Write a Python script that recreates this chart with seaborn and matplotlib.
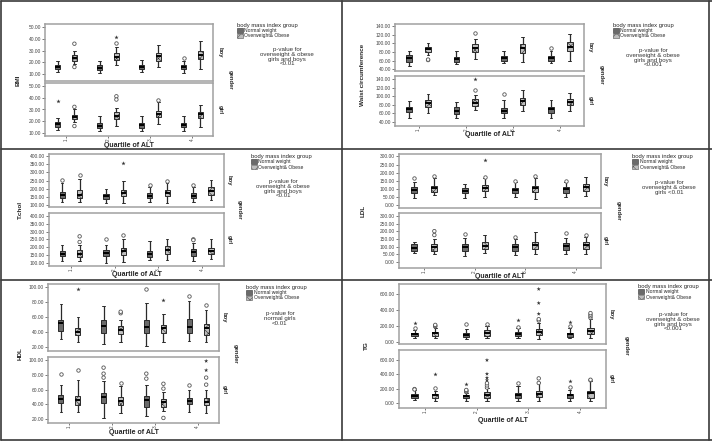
import matplotlib
matplotlib.use('Agg')
import matplotlib.pyplot as plt
import seaborn as sns
import pandas as pd
from matplotlib.lines import Line2D
from matplotlib.patches import Patch

quartiles = ['1', '2', '3', '4']
groups = ['Normal weight', 'Overweight& Obese']

# five-number summaries [low, q1, median, q3, high]
# rows: Q1 normal, Q1 obese, Q2 normal, Q2 obese, Q3 normal, Q3 obese, Q4 normal, Q4 obese
bmi_boy = [[12, 14, 16, 18, 21], [19, 21, 23.5, 26, 30],
           [11, 13.4, 15.4, 17.4, 21], [17.7, 22, 25, 27.7, 33.4],
           [12, 14, 16.3, 17.7, 22], [16.3, 21.4, 25.4, 28.3, 34.9],
           [11.1, 14.3, 16.3, 17.7, 21.4], [14, 22.6, 26.3, 29.7, 38]]
bmi_girl = [[12.3, 14.6, 17.1, 18.9, 22.3], [19.4, 21.7, 23.7, 25.1, 30],
            [11.7, 14, 16, 18.6, 24.3], [15.7, 21.4, 24.6, 28, 31.7],
            [11.7, 14.3, 16.3, 18.6, 24.6], [17.4, 23.1, 25.7, 28.6, 36.6],
            [11.7, 14.6, 16.9, 18.6, 24.6], [15.1, 22.9, 25.7, 28, 34.3]]
# outliers (quartile, group index, value)
bmi_boy_out = [(1, 1, 36), (1, 1, 16), (2, 1, 36.3), (4, 0, 24)]
bmi_boy_ext = [(2, 1, 42)]
bmi_girl_out = [(1, 1, 32.3), (1, 1, 15.7), (2, 1, 41.4), (2, 1, 38.6), (3, 1, 38.6)]
bmi_girl_ext = [(1, 0, 37)]

waist_boy = [[47.7, 57.7, 65.4, 73, 83], [73, 80.8, 86, 92.3, 100],
             [52, 57.7, 63.8, 69, 82], [63, 80.8, 88.5, 97.7, 109],
             [53.8, 59, 65.4, 71.5, 83], [57.7, 78.5, 88.5, 97.7, 115],
             [53.8, 60, 65.4, 70.8, 82], [60, 83, 92.3, 102, 121.5]]
waist_girl = [[48.6, 64, 70.5, 76, 89], [62, 76, 83.8, 91.5, 105],
              [50, 58, 65.8, 74.4, 87.7], [68, 77.5, 85.3, 93, 103],
              [48.6, 60, 66.6, 73.6, 91.5], [65.8, 80, 90, 97, 115],
              [48.6, 62, 69.7, 76, 91.5], [65.8, 80, 87.7, 94.7, 108.8]]
waist_boy_out = [(1, 1, 61.5), (1, 1, 62.5), (2, 1, 123), (4, 0, 90)]
waist_boy_ext = []
waist_girl_out = [(2, 1, 115), (3, 0, 105)]
waist_girl_ext = [(2, 1, 140)]

tchol_boy = [[114.5, 141.4, 162, 178.7, 234.6], [114.5, 141.4, 162, 189, 259],
             [110, 137, 156, 168, 197], [110, 152, 172.5, 193, 249],
             [114.5, 141, 156, 170, 207], [110, 152, 172.5, 191, 235],
             [116.5, 141, 156, 172, 208], [131, 162, 183, 207.7, 255]]
tchol_girl = [[110.6, 142.5, 159.6, 176.6, 217], [110.6, 138, 159.6, 181, 217],
              [102, 144.7, 166, 185, 217], [106, 149, 174.5, 198, 255],
              [117, 138, 157, 174.5, 238], [117, 155, 181, 206, 255],
              [112.8, 144.7, 170, 187, 227.7], [127.6, 157, 178.7, 198, 255]]
tchol_boy_out = [(1, 0, 255), (1, 1, 286), (3, 0, 224), (3, 1, 249), (4, 0, 224)]
tchol_boy_ext = [(2, 1, 359)]
tchol_girl_out = [(1, 1, 234), (1, 1, 270), (2, 0, 251), (2, 1, 276.6), (4, 0, 251), (4, 0, 246)]
tchol_girl_ext = []

ldl_boy = [[47.6, 76.6, 93, 109.7, 140.8], [62, 82.8, 103.5, 120, 165.6],
           [47.6, 72.5, 89, 103.5, 128], [51.8, 87, 107.7, 124, 165.6],
           [51.8, 76.6, 91, 103.5, 140.8], [41.4, 82.8, 103.5, 120, 165.6],
           [51.8, 76.6, 97, 109.7, 140.8], [58, 87, 109.7, 130, 172]]
ldl_girl = [[57.8, 72.8, 94, 115.6, 132.8], [51.4, 72.8, 96, 115.6, 150],
            [40.7, 72.8, 98.5, 120, 158.5], [57.8, 85.6, 107, 128.5, 175.6],
            [47, 72.8, 96, 115.6, 150], [51.4, 85.6, 111, 132.8, 192.7],
            [53.5, 79, 105, 126, 154], [51.4, 85.6, 111, 132.8, 165]]
ldl_boy_out = [(1, 0, 170), (1, 1, 182), (2, 1, 176), (3, 0, 149), (3, 1, 182), (4, 0, 149)]
ldl_boy_ext = [(2, 1, 275)]
ldl_girl_out = [(1, 1, 175.6), (1, 1, 201), (2, 0, 180), (3, 0, 165), (4, 0, 186), (4, 1, 175.6)]
ldl_girl_ext = []

hdl_boy = [[31.2, 41.6, 51.5, 56, 77.5], [26.7, 35.7, 40.2, 45.6, 59.5],
           [24.5, 39, 47.9, 56, 74], [26.3, 37, 42.5, 47.9, 56],
           [21, 39, 46, 56, 78.4], [26.3, 39, 45.6, 49, 64],
           [28, 38, 46, 57, 80.7], [26.3, 35.7, 44.7, 50.6, 69.4]]
hdl_girl = [[29.5, 42.3, 47.7, 53, 66.8], [29.5, 38.6, 45.5, 51, 72.7],
            [21.8, 41.8, 50, 55.5, 71.8], [28.2, 38.6, 44, 50, 65],
            [23.6, 36.4, 46.4, 51.5, 66.8], [31, 36.4, 42.7, 46.8, 56.8],
            [29.5, 40, 44, 49, 60], [28.2, 38.6, 43, 49, 60]]
hdl_boy_out = [(2, 1, 65), (2, 1, 67), (3, 0, 97.3), (4, 0, 87.4), (4, 1, 76)]
hdl_boy_ext = [(1, 1, 97), (3, 1, 83)]
hdl_girl_out = [(1, 0, 81), (1, 1, 87.3), (2, 0, 90), (2, 0, 81.8), (2, 0, 76.4), (2, 1, 69.5),
                (3, 0, 81.8), (3, 0, 75), (3, 1, 68), (3, 1, 61.4), (3, 1, 21.4),
                (4, 0, 66.8), (4, 1, 66.8), (4, 1, 76.4)]
hdl_girl_ext = [(4, 1, 86.4), (4, 1, 99)]

tg_boy = [[51, 72, 93, 114, 148], [42, 72, 106, 127, 169],
          [34, 63, 84.5, 114, 160], [42, 72, 114, 148, 198],
          [51, 72, 97, 127, 169], [30, 84.5, 127, 160, 232],
          [42, 63, 93, 114, 169], [42, 97, 139, 177, 283]]
tg_girl = [[43, 68, 98, 128, 183], [34, 68, 106, 128, 162],
           [34, 68, 98, 119, 140], [34, 77, 119, 149, 213],
           [34, 68, 111, 140, 234], [34, 85, 132, 170, 289],
           [34, 68, 106, 132, 183], [26, 77, 140, 174, 310]]
tg_boy_out = [(1, 0, 169), (1, 1, 190), (1, 1, 200), (1, 1, 211), (2, 0, 224), (2, 1, 224),
              (3, 0, 190), (3, 1, 266), (3, 1, 283), (4, 0, 198),
              (4, 1, 300), (4, 1, 320), (4, 1, 340), (4, 1, 360)]
tg_boy_ext = [(1, 0, 232), (3, 0, 275), (3, 1, 350), (3, 1, 486), (3, 1, 663), (4, 0, 253)]
tg_girl_out = [(1, 0, 196), (1, 0, 190), (1, 1, 213), (2, 0, 153), (2, 0, 163), (2, 0, 175), (2, 0, 183),
               (2, 1, 217), (2, 1, 247), (2, 1, 277), (3, 0, 277), (3, 1, 281), (3, 1, 345),
               (4, 0, 226), (4, 1, 318), (4, 1, 326)]
tg_girl_ext = [(1, 1, 404), (2, 0, 260), (2, 1, 319), (2, 1, 353), (2, 1, 408), (2, 1, 600), (4, 0, 310)]

W, H = 712, 441
sns.set_style('white')
plt.rcParams['font.family'] = ['Liberation Sans', 'DejaVu Sans']
plt.rcParams['hatch.linewidth'] = 0.4

dark = '#6a6a6a'
light = '#bdbdbd'
palette = {groups[0]: dark, groups[1]: light}


def box_frame(stats):
    rows = []
    for i, s in enumerate(stats):
        for v in s:
            rows.append({'quartile': quartiles[i // 2], 'group': groups[i % 2], 'value': v})
    return pd.DataFrame(rows)


def point_frame(pts):
    return pd.DataFrame({'quartile': [quartiles[q - 1] for q, g, v in pts],
                         'group': [groups[g] for q, g, v in pts],
                         'value': [v for q, g, v in pts]})


def rect(x0, y0, x1, y1):
    return [x0 / W, 1 - y1 / H, (x1 - x0) / W, (y1 - y0) / H]


def draw_sub(ax, stats, outs, exts, ylim, yticks, bottom):
    sns.boxplot(data=box_frame(stats), x='quartile', y='value', hue='group',
                order=quartiles, hue_order=groups, palette=palette, whis=(0, 100),
                width=0.8, gap=0.7, linewidth=0.7, linecolor='#2a2a2a',
                showfliers=False, medianprops=dict(color='black', linewidth=1.4),
                whiskerprops=dict(linewidth=0.9), ax=ax, legend=False)
    for p in ax.patches:
        fc = p.get_facecolor()
        if fc[0] > 0.6:
            p.set_hatch('xxxx')
    if outs:
        sns.stripplot(data=point_frame(outs), x='quartile', y='value', hue='group',
                      order=quartiles, hue_order=groups, dodge=True, jitter=False,
                      marker='o', palette={g: 'white' for g in groups},
                      edgecolor='#555555', linewidth=0.6, size=2.5, ax=ax, legend=False)
    if exts:
        sns.stripplot(data=point_frame(exts), x='quartile', y='value', hue='group',
                      order=quartiles, hue_order=groups, dodge=True, jitter=False,
                      marker='*', palette={g: '#333333' for g in groups},
                      linewidth=0, size=3.2, ax=ax, legend=False)
    ax.set_xlim(-0.5, 3.5)
    ax.set_ylim(*ylim)
    ax.set_yticks(yticks)
    ax.set_yticklabels(['%.2f' % t for t in yticks])
    ax.set_xlabel('')
    ax.set_ylabel('')
    ax.tick_params(axis='y', labelsize=3.5, length=2, width=0.5, pad=1, colors='#444444', left=True)
    if bottom:
        ax.tick_params(axis='x', labelsize=3.3, length=1.5, width=0.5, pad=0.5, colors='#444444',
                       labelrotation=90, bottom=True)
    else:
        ax.tick_params(axis='x', length=0, labelbottom=False)
    for s in ax.spines.values():
        s.set_color('#a0a0a0')
        s.set_linewidth(1.1)


fig = plt.figure(figsize=(W / 100, H / 100), dpi=100)

panels = [
    dict(ylabel='BMI', boy=(bmi_boy, bmi_boy_out, bmi_boy_ext), girl=(bmi_girl, bmi_girl_out, bmi_girl_ext),
         top=(45, 24, 213, 81), bot=(45, 83, 213, 136), ylim_t=(4, 52.9), ylim_b=(7.1, 52.9),
         yticks=[10, 20, 30, 40, 50], ylab_x=18, xlab_y=145, facet_x=220, gender_x=230,
         leg=(237, 23), ptext=(287, 47), pval='p-value for\noverweight & obese\ngirls and boys\n<0.01'),
    dict(ylabel='Waist circumference', boy=(waist_boy, waist_boy_out, waist_boy_ext),
         girl=(waist_girl, waist_girl_out, waist_girl_ext),
         top=(395, 24, 584, 71), bot=(395, 76, 584, 126), ylim_t=(36.2, 144.6), ylim_b=(30.6, 147.8),
         yticks=[40, 60, 80, 100, 120, 140], ylab_x=363, xlab_y=135, facet_x=590, gender_x=601,
         leg=(613, 23), ptext=(653, 48), pval='p-value for\noverweight & obese\ngirls and boys\n<0.001'),
    dict(ylabel='T.chol', boy=(tchol_boy, tchol_boy_out, tchol_boy_ext),
         girl=(tchol_girl, tchol_girl_out, tchol_girl_ext),
         top=(49, 154, 224, 207), bot=(49, 213, 224, 266), ylim_t=(85, 415), ylim_b=(81, 419),
         yticks=[100, 150, 200, 250, 300, 350, 400], ylab_x=20, xlab_y=275, facet_x=229, gender_x=239,
         leg=(251, 154), ptext=(283, 179), pval='p-value for\noverweight & obese\ngirls and boys\n<0.01'),
    dict(ylabel='LDL', boy=(ldl_boy, ldl_boy_out, ldl_boy_ext), girl=(ldl_girl, ldl_girl_out, ldl_girl_ext),
         top=(399, 154, 601, 208), bot=(399, 213, 601, 268), ylim_t=(-16.6, 314.6), ylim_b=(-38.5, 319),
         yticks=[0, 50, 100, 150, 200, 250, 300], ylab_x=363, xlab_y=276, facet_x=605, gender_x=618,
         leg=(632, 154), ptext=(669, 180), pval='p-value for\noverweight & obese\ngirls <0.01'),
    dict(ylabel='HDL', boy=(hdl_boy, hdl_boy_out, hdl_boy_ext), girl=(hdl_girl, hdl_girl_out, hdl_girl_ext),
         top=(48, 284, 219, 351), bot=(48, 357, 219, 423), ylim_t=(14.6, 104), ylim_b=(14.5, 104.5),
         yticks=[20, 40, 60, 80, 100], ylab_x=20, xlab_y=433, facet_x=224, gender_x=235,
         leg=(246, 285), ptext=(280, 311), pval='p-value for\nnormal girls\n<0.01'),
    dict(ylabel='TG', boy=(tg_boy, tg_boy_out, tg_boy_ext), girl=(tg_girl, tg_girl_out, tg_girl_ext),
         top=(399, 284, 606, 344), bot=(399, 350, 606, 408), ylim_t=(-30, 727), ylim_b=(-69, 742),
         yticks=[0, 200, 400, 600], ylab_x=366, xlab_y=421, facet_x=611, gender_x=626,
         leg=(638, 284), ptext=(673, 312), pval='p-value for\noverweight & obese\ngirls and boys\n<0.001'),
]

handles = [Patch(facecolor=dark, edgecolor='#333333', linewidth=0.4),
           Patch(facecolor=light, edgecolor='#555555', linewidth=0.4, hatch='xxxx')]

for pn in panels:
    ax_t = fig.add_axes(rect(*pn['top']))
    ax_b = fig.add_axes(rect(*pn['bot']))
    draw_sub(ax_t, *pn['boy'], pn['ylim_t'], pn['yticks'], False)
    draw_sub(ax_b, *pn['girl'], pn['ylim_b'], pn['yticks'], True)
    x0, y0 = pn['top'][0], pn['top'][1]
    x1, y1 = pn['bot'][2], pn['bot'][3]
    fig.text(pn['ylab_x'] / W, 1 - (y0 + y1) / 2 / H, pn['ylabel'], rotation=90,
             ha='center', va='center', fontsize=4.6, fontweight='bold')
    fig.text((x0 + x1) / 2 / W, 1 - pn['xlab_y'] / H, 'Quartile of ALT',
             ha='center', va='center', fontsize=5.0, fontweight='bold')
    fig.text(pn['facet_x'] / W, 1 - (pn['top'][1] + pn['top'][3]) / 2 / H, 'boy', rotation=270,
             ha='center', va='center', fontsize=4.2, fontweight='bold')
    fig.text(pn['facet_x'] / W, 1 - (pn['bot'][1] + pn['bot'][3]) / 2 / H, 'girl', rotation=270,
             ha='center', va='center', fontsize=4.2, fontweight='bold')
    fig.text(pn['gender_x'] / W, 1 - (y0 + y1) / 2 / H, 'gender', rotation=270,
             ha='center', va='center', fontsize=4.2, fontweight='bold')
    lx, ly = pn['leg']
    fig.legend(handles, groups, title='body mass index group', loc='upper left',
               bbox_to_anchor=(lx / W, 1 - ly / H), frameon=False, fontsize=3.6,
               title_fontsize=4.2, alignment='left', borderpad=0, borderaxespad=0,
               labelspacing=0.05, handlelength=1.2, handleheight=0.9, handletextpad=0.3)
    fig.text(pn['ptext'][0] / W, 1 - pn['ptext'][1] / H, pn['pval'], ha='center', va='top',
             fontsize=4.4, linespacing=0.95, color='#333333')

# panel borders
for (xa, ya, xb, yb) in [(1, 1, 712, 1), (1, 1, 1, 440), (1, 440, 712, 440), (342, 1, 342, 440),
                         (709, 1, 709, 440), (1, 149, 712, 149), (1, 280, 712, 280)]:
    fig.add_artist(Line2D([xa / W, xb / W], [1 - ya / H, 1 - yb / H], color='#3a3a3a', linewidth=1.2))

fig.savefig('out.png', dpi=100)
